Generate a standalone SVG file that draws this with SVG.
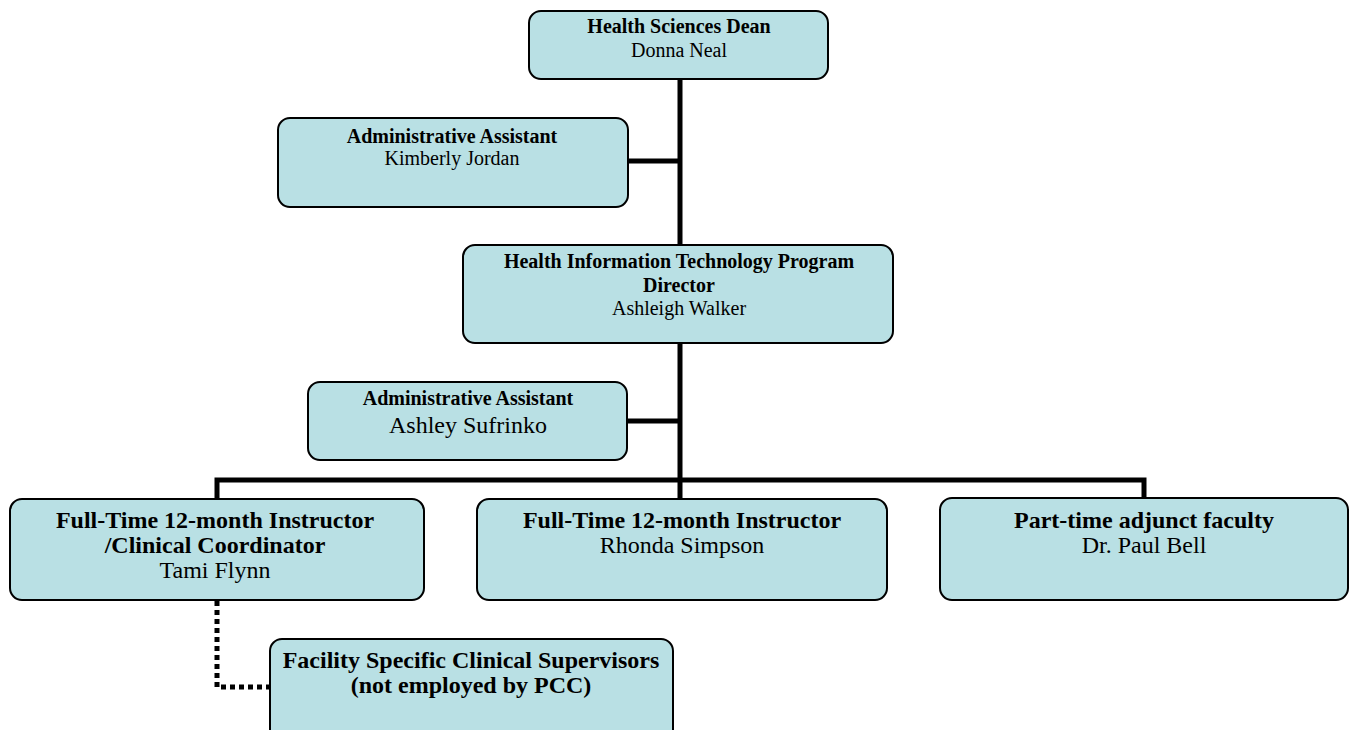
<svg xmlns="http://www.w3.org/2000/svg" width="1351" height="730" viewBox="0 0 1351 730">
<style>
.box{fill:#b9e0e4;stroke:#000;stroke-width:2}
text{font-family:"Liberation Serif","Times New Roman",serif;fill:#000;text-anchor:middle}
.b20{font-size:20px;font-weight:bold}
.r20{font-size:20px}
.b24{font-size:24px;font-weight:bold}
.r24{font-size:24px}
.ln{fill:none;stroke:#000;stroke-width:5}
.dot{fill:none;stroke:#000;stroke-width:5;stroke-dasharray:5 4}
</style>
<rect width="1351" height="730" fill="#fff"/>
<g id="connectors">
<line class="ln" x1="680" y1="79" x2="680" y2="245"/>
<line class="ln" x1="627" y1="161" x2="680" y2="161"/>
<line class="ln" x1="680" y1="343" x2="680" y2="499"/>
<line class="ln" x1="627" y1="421" x2="680" y2="421"/>
<polyline class="ln" points="217,499 217,480 1144,480 1144,498"/>
<path class="dot" d="M217,601 V687 H270"/>
</g>
<g id="dean">
<rect class="box" x="529" y="11" width="299" height="68" rx="12"/>
<text class="b20" x="679" y="33">Health Sciences Dean</text>
<text class="r20" x="679" y="57">Donna Neal</text>
</g>
<g id="admin1">
<rect class="box" x="278" y="118" width="350" height="89" rx="12"/>
<text class="b20" x="452" y="143">Administrative Assistant</text>
<text class="r20" x="452" y="165">Kimberly Jordan</text>
</g>
<g id="director">
<rect class="box" x="463" y="245" width="430" height="98" rx="12"/>
<text class="b20" x="679" y="268">Health Information Technology Program</text>
<text class="b20" x="679" y="292">Director</text>
<text class="r20" x="679" y="315">Ashleigh Walker</text>
</g>
<g id="admin2">
<rect class="box" x="308" y="382" width="319" height="78" rx="12"/>
<text class="b20" x="468" y="405">Administrative Assistant</text>
<text class="r24" x="468" y="433">Ashley Sufrinko</text>
</g>
<g id="tami">
<rect class="box" x="10" y="499" width="414" height="101" rx="12"/>
<text class="b24" x="215" y="528">Full-Time 12-month Instructor</text>
<text class="b24" x="215" y="553">/Clinical Coordinator</text>
<text class="r24" x="215" y="578">Tami Flynn</text>
</g>
<g id="rhonda">
<rect class="box" x="477" y="499" width="410" height="101" rx="12"/>
<text class="b24" x="682" y="528">Full-Time 12-month Instructor</text>
<text class="r24" x="682" y="553">Rhonda Simpson</text>
</g>
<g id="paul">
<rect class="box" x="940" y="498" width="408" height="102" rx="12"/>
<text class="b24" x="1144" y="528">Part-time adjunct faculty</text>
<text class="r24" x="1144" y="553">Dr. Paul Bell</text>
</g>
<g id="facility">
<rect class="box" x="270" y="639" width="403" height="110" rx="12"/>
<text class="b24" x="471" y="668">Facility Specific Clinical Supervisors</text>
<text class="b24" x="471" y="693">(not employed by PCC)</text>
</g>
</svg>
